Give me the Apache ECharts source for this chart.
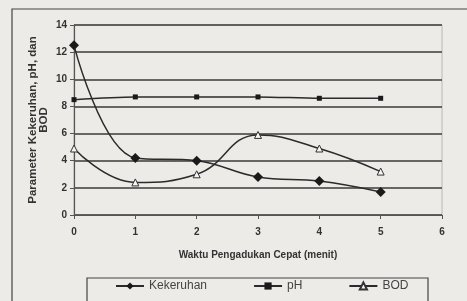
<!DOCTYPE html>
<html>
<head>
<meta charset="utf-8">
<script src="https://cdn.jsdelivr.net/npm/echarts@6/dist/echarts.min.js"></script>
<style>
  html, body { margin: 0; padding: 0; background: #ecebe7; }
  #chart { width: 467px; height: 301px; }
</style>
</head>
<body>
<div id="chart"></div>
<script>
// waktu pengadukan (menit)
const waktu = [0, 1, 2, 3, 4, 5];
const kekeruhan = [12.5, 4.2, 4.0, 2.8, 2.5, 1.7];
const ph = [8.5, 8.7, 8.7, 8.7, 8.6, 8.6];
const bod = [4.9, 2.4, 3.0, 5.9, 4.9, 3.2];

const pairs = (ys) => waktu.map((x, i) => [x, ys[i]]);

const chart = echarts.init(document.getElementById('chart'), null, { renderer: 'canvas' });

const lineCol = '#2b2b2b';
const font = 'Liberation Sans, Arial, sans-serif';

chart.setOption({
  backgroundColor: '#ecebe7',
  animation: false,
  grid: { left: 74, right: 25, top: 25, bottom: 86, show: true, borderColor: '#b8b8b8', borderWidth: 1 },
  graphic: [
    { type: 'rect', shape: { x: 12, y: 9, width: 470, height: 300 }, style: { fill: 'none', stroke: '#444', lineWidth: 1.2 } },
    { type: 'rect', shape: { x: 87, y: 278, width: 341, height: 40 }, style: { fill: 'none', stroke: '#444', lineWidth: 1.2 } }
  ],
  xAxis: {
    type: 'value', min: 0, max: 6, interval: 1,
    name: 'Waktu Pengadukan Cepat (menit)', nameLocation: 'middle', nameGap: 35,
    nameTextStyle: { fontFamily: font, fontWeight: 'bold', fontSize: 10, color: '#333' },
    axisLine: { lineStyle: { color: '#555', width: 1.2 } },
    axisTick: { show: true, inside: false, length: 4, lineStyle: { color: '#555' } },
    axisLabel: { fontFamily: font, fontWeight: 'bold', fontSize: 10, color: '#333', margin: 12 },
    splitLine: { show: false }
  },
  yAxis: {
    type: 'value', min: 0, max: 14, interval: 2,
    name: 'Parameter Kekeruhan, pH, dan\nBOD', nameLocation: 'middle', nameGap: 25, nameRotate: 90,
    nameMoveOverlap: false,
    nameTextStyle: { fontFamily: font, fontWeight: 'bold', fontSize: 11.5, color: '#333', lineHeight: 11 },
    axisLine: { show: true, lineStyle: { color: '#555', width: 1.2 } },
    axisTick: { show: true, length: 4, lineStyle: { color: '#555' } },
    axisLabel: { fontFamily: font, fontWeight: 'bold', fontSize: 10, color: '#333', margin: 7 },
    splitLine: { show: true, lineStyle: { color: '#3a3a3a', width: 1.5 } }
  },
  legend: {
    bottom: 4, left: 110, itemGap: 46, itemWidth: 28, itemHeight: 9,
    textStyle: { fontFamily: font, fontSize: 12, color: '#444' },
    data: ['Kekeruhan', 'pH', 'BOD']
  },
  series: [
    {
      name: 'Kekeruhan', type: 'line', smooth: 0.4, data: pairs(kekeruhan),
      symbol: 'diamond', symbolSize: 10,
      lineStyle: { color: lineCol, width: 1.5 },
      itemStyle: { color: '#1a1a1a' }
    },
    {
      name: 'pH', type: 'line', smooth: 0.3, data: pairs(ph),
      symbol: 'rect', symbolSize: 5,
      lineStyle: { color: lineCol, width: 1.5 },
      itemStyle: { color: '#1a1a1a' }
    },
    {
      name: 'BOD', type: 'line', smooth: 0.45, data: pairs(bod),
      symbol: 'triangle', symbolSize: 7,
      lineStyle: { color: lineCol, width: 1.5 },
      itemStyle: { color: '#f4f4f4', borderColor: '#333', borderWidth: 1 }
    }
  ]
});
</script>
</body>
</html>
